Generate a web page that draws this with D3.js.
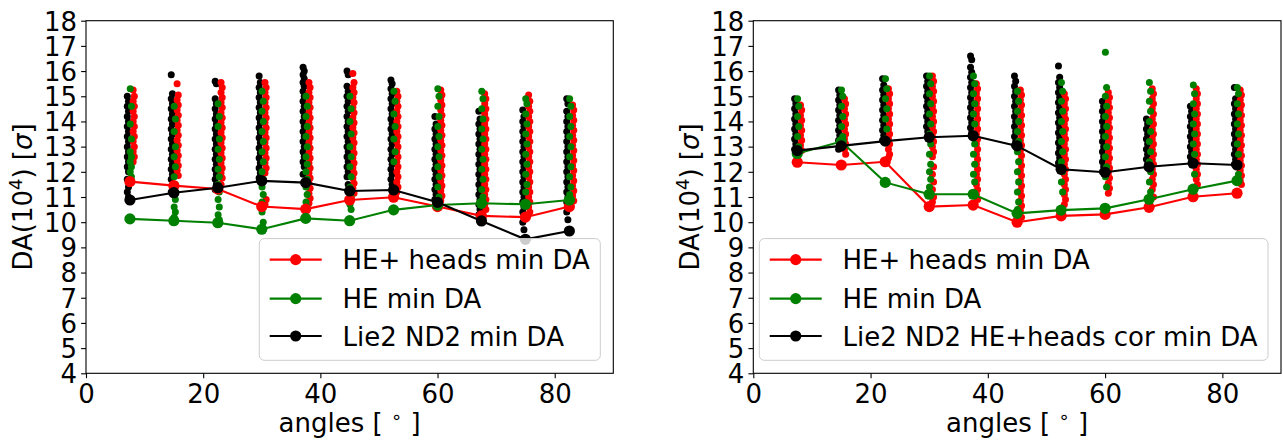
<!DOCTYPE html>
<html><head><meta charset="utf-8">
<script src="https://cdn.jsdelivr.net/npm/d3@7"></script>
<style>body{margin:0;background:#fff} text{font-family:"DejaVu Sans",sans-serif;fill:#000}</style>
</head><body><svg id="c" width="1283" height="441"></svg>
<script>
// ---------------- DATA ----------------
const angles = [7.5, 15, 22.5, 30, 37.5, 45, 52.5, 60, 67.5, 75, 82.5];
const xTicks = [0, 20, 40, 60, 80];
const yTicks = [4, 5, 6, 7, 8, 9, 10, 11, 12, 13, 14, 15, 16, 17, 18];

const leftLegend = ["HE+ heads min DA", "HE min DA", "Lie2 ND2 min DA"];
const rightLegend = ["HE+ heads min DA", "HE min DA", "Lie2 ND2 HE+heads cor min DA"];

// minimum DA per angle (lines)
const leftRedMin   = [11.61, 11.45, 11.32, 10.62, 10.52, 10.88, 10.99, 10.62, 10.25, 10.20, 10.62];
const leftGreenMin = [10.13, 10.06, 9.98, 9.72, 10.15, 10.06, 10.49, 10.68, 10.75, 10.71, 10.88];
const leftBlackMin = [10.88, 11.17, 11.37, 11.64, 11.57, 11.24, 11.28, 10.79, 10.05, 9.32, 9.65];
const rightRedMin   = [12.38, 12.27, 12.40, 10.62, 10.68, 10.00, 10.25, 10.31, 10.59, 11.01, 11.15];
const rightGreenMin = [12.73, 13.20, 11.58, 11.11, 11.11, 10.35, 10.48, 10.55, 10.91, 11.31, 11.65];
const rightBlackMin = [12.84, 13.03, 13.22, 13.37, 13.43, 13.03, 12.10, 11.98, 12.20, 12.34, 12.27];

// individual DA values per angle (scatter clouds)
const leftBlackCloud = [
 [15.0,14.8,14.6,14.4,14.2,14.0,13.8,13.6,13.4,13.2,13.0,12.8,12.6,12.4,12.2,12.0,11.7,11.4,11.2,11.0],
 [15.85,15.1,14.9,14.7,14.5,14.3,14.1,13.9,13.7,13.5,13.3,13.1,12.9,12.7,12.5,12.3,12.1,11.9,11.7,11.4,11.2],
 [15.6,15.5,14.9,14.7,14.5,14.3,14.1,13.9,13.7,13.5,13.3,13.1,12.9,12.7,12.5,12.3,12.1,11.9,11.7,11.5,11.3],
 [15.8,15.55,15.35,15.15,14.95,14.75,14.55,14.35,14.15,13.95,13.75,13.55,13.35,13.15,12.95,12.75,12.55,12.35,12.15,11.95,11.75],
 [16.15,16.0,15.85,15.7,15.55,15.4,15.2,15.0,14.8,14.6,14.4,14.2,14.0,13.8,13.6,13.4,13.2,13.0,12.8,12.6,12.4,12.2,11.9],
 [16.0,15.85,15.4,15.2,15.0,14.8,14.6,14.4,14.2,14.0,13.8,13.6,13.4,13.2,13.0,12.8,12.6,12.4,12.2,12.0,11.8,11.5],
 [15.65,15.5,15.3,15.1,14.9,14.7,14.5,14.3,14.1,13.9,13.7,13.5,13.3,13.1,12.9,12.7,12.5,12.3,12.1,11.9,11.7,11.5],
 [14.2,13.9,13.7,13.5,13.3,13.1,12.9,12.7,12.5,12.3,12.1,11.9,11.7,11.5,11.3,11.1,10.9],
 [14.4,14.1,13.9,13.7,13.5,13.3,13.1,12.9,12.7,12.5,12.3,12.1,11.9,11.7,11.5,11.3,11.1,10.9,10.7,10.5,10.3,10.1],
 [14.45,14.2,14.0,13.8,13.6,13.4,13.2,13.0,12.8,12.6,12.4,12.2,12.0,11.8,11.6,11.4,11.2,11.0,10.8,10.6,10.4,10.2,10.0,9.7],
 [14.9,14.7,14.4,14.2,14.0,13.8,13.6,13.4,13.2,13.0,12.8,12.6,12.4,12.2,12.0,11.8,11.6,11.4,11.2,11.0,10.8,10.6,10.4,10.1]
];
const leftGreenCloud = [
 [15.3,14.6,13.9,13.3,12.8,12.6,12.4,12.2,12.0,11.8,11.6],
 [14.6,14.1,13.6,13.0,12.6,12.2,11.8,11.5,11.2,10.9,10.6,10.4,10.2],
 [14.7,14.2,13.8,13.3,12.9,12.5,12.1,11.8,11.5,11.2,10.9,10.6,10.3,10.1],
 [15.2,14.8,14.4,14.0,13.6,13.2,12.8,12.4,12.0,11.7,11.4,11.1,10.8,10.6,10.4,10.0],
 [15.0,14.6,14.2,13.8,13.4,13.0,12.6,12.3,12.0,11.7,11.4,11.1,10.8,10.6],
 [15.0,14.5,14.0,13.5,13.0,12.6,12.2,11.8,11.4,11.0,10.7,10.5],
 [15.2,14.8,14.3,13.8,13.3,12.8,12.4],
 [15.3,15.0,14.6,14.2,13.8,13.4,13.0,12.6,12.2,11.8,11.4,11.0],
 [15.2,14.9,14.5,14.1,13.7,13.3,12.9,12.5,12.1,11.7,11.3,11.0],
 [14.9,14.7,14.3,13.9,13.5,13.1,12.7,12.3,11.9,11.5,11.2],
 [14.9,14.6,14.2,13.8,13.4,13.0,12.6,12.2,11.8,11.4,11.1]
];
const leftRedCloud = [
 [15.25,15.0,14.8,14.6,14.4,14.2,14.0,13.8,13.6,13.4,13.2,13.0,12.8,12.6,12.4],
 [15.5,15.05,14.85,14.65,14.45,14.25,14.05,13.85,13.65,13.45,13.25,13.05,12.85,12.65,12.45,12.25,12.05,11.85],
 [15.55,15.35,15.15,14.95,14.75,14.55,14.35,14.15,13.95,13.75,13.55,13.35,13.15,12.95,12.75,12.55,12.35,12.15,11.95,11.75,11.5],
 [15.55,15.35,15.15,14.95,14.75,14.55,14.35,14.15,13.95,13.75,13.55,13.35,13.15,12.95,12.75,12.55,12.35,12.15,11.95,10.9,10.7],
 [15.55,15.35,15.15,14.95,14.75,14.55,14.35,14.15,13.95,13.75,13.55,13.35,13.15,12.95,12.75,12.55,12.35,12.15,11.95,11.75,11.55,11.35,11.15,10.95,10.75],
 [15.9,15.55,15.35,15.15,14.95,14.75,14.55,14.35,14.15,13.95,13.75,13.55,13.35,13.15,12.95,12.75,12.55,12.35,12.15,11.95,11.75,11.55,11.35,11.15],
 [15.2,15.0,14.8,14.6,14.4,14.2,14.0,13.8,13.6,13.4,13.2,13.0,12.8,12.6,12.4,12.2,12.0,11.8,11.6,11.4,11.2],
 [15.25,15.05,14.85,14.65,14.45,14.25,14.05,13.85,13.65,13.45,13.25,13.05,12.85,12.65,12.45,12.25,12.05,11.85,11.65,11.45,11.25,11.05,10.85],
 [15.1,14.9,14.7,14.5,14.3,14.1,13.9,13.7,13.5,13.3,13.1,12.9,12.7,12.5,12.3,12.1,11.9,11.7,11.5,11.3,11.1,10.9,10.7,10.5],
 [15.05,14.8,14.6,14.4,14.2,14.0,13.8,13.6,13.4,13.2,13.0,12.8,12.6,12.4,12.2,12.0,11.8,11.6,11.4,11.2,11.0,10.8,10.6,10.4],
 [14.65,14.45,14.25,14.05,13.85,13.65,13.45,13.25,13.05,12.85,12.65,12.45,12.25,12.05,11.85,11.65,11.45,11.25,11.05,10.85]
];
const rightBlackCloud = [
 [14.9,14.7,14.5,14.3,14.1,13.9,13.7,13.5,13.3,13.1,12.9,12.75],
 [15.25,15.05,14.85,14.65,14.45,14.25,14.05,13.85,13.65,13.45,13.25,13.05,12.9],
 [15.7,15.45,15.25,15.05,14.85,14.65,14.45,14.25,14.05,13.85,13.65,13.45,13.25],
 [15.8,15.6,15.4,15.2,15.0,14.8,14.6,14.4,14.2,14.0,13.8,13.6],
 [16.6,16.45,16.15,15.95,15.75,15.55,15.35,15.15,14.95,14.75,14.55,14.35,14.15,13.95,13.75,13.55],
 [15.8,15.6,15.4,15.2,15.0,14.8,14.6,14.4,14.2,14.0,13.8,13.6,13.4,13.2,13.05],
 [16.2,15.75,15.55,15.35,15.15,14.95,14.75,14.55,14.35,14.15,13.95,13.75,13.55,13.35,13.15,12.95,12.75,12.55,12.35,12.15],
 [14.8,14.6,14.4,14.2,14.0,13.8,13.6,13.4,13.2,13.0,12.8,12.6,12.4,12.2,12.0],
 [14.1,13.9,13.7,13.5,13.3,13.1,12.9,12.7,12.5,12.3],
 [14.6,14.4,14.2,14.0,13.8,13.6,13.4,13.2,13.0,12.8,12.6,12.4],
 [15.35,14.9,14.7,14.5,14.3,14.1,13.9,13.7,13.5,13.3,13.1,12.9,12.7,12.5,12.3]
];
const rightGreenCloud = [
 [14.9,14.6,14.2,13.8,13.4,13.0,12.75],
 [15.25,15.0,14.6,14.2,13.8,13.4,13.15],
 [15.7,15.3,14.9,14.5,14.1,13.7,13.3],
 [15.8,15.5,15.1,14.7,14.3,13.9,13.5,13.1,12.7,12.3,12.0,11.7,11.4,11.1],
 [15.8,15.5,15.1,14.7,14.3,13.9,13.5,13.1,12.7,12.3,11.9,11.6],
 [15.2,14.8,14.4,14.0,13.6,13.2,12.8,12.4,12.0,11.6,11.2,10.8,10.5],
 [15.55,15.2,14.8,14.4,14.0,13.6,13.2,12.8,12.4,12.0,11.6,11.2],
 [16.75,15.35,15.0,14.6,14.2,13.8,13.4,13.0,12.6,12.2,11.8,11.4],
 [15.55,15.2,14.8,14.4,14.0,13.6,13.2,12.8,12.4,12.0,11.6,11.2],
 [15.45,15.1,14.7,14.3,13.9,13.5,13.1,12.7,12.3,11.9],
 [15.35,15.1,14.7,14.3,13.9,13.5,13.1,12.7,12.3,11.9]
];
const rightRedCloud = [
 [14.65,14.45,14.25,14.05,13.85,13.65,13.45,13.25,13.05,12.85],
 [14.9,14.7,14.5,14.3,14.1,13.9,13.7,13.5,13.3,13.1,12.9,12.7],
 [15.3,15.1,14.9,14.7,14.5,14.3,14.1,13.9,13.7,13.5,13.3,13.1,12.9,12.7,12.55],
 [15.8,15.6,15.4,15.2,15.0,14.8,14.6,14.4,14.2,14.0,13.8,13.6,13.4,13.2,13.0,12.8,12.6,12.2,11.9,11.6,11.3,11.0,10.8],
 [15.5,15.3,15.1,14.9,14.7,14.5,14.3,14.1,13.9,13.7,13.5,13.3,13.1,12.9,12.7,12.5,12.3,12.1,11.9,11.7,11.5,11.3,11.1,10.9],
 [15.25,15.05,14.85,14.65,14.45,14.25,14.05,13.85,13.65,13.45,13.25,13.05,12.85,12.65,12.45,12.25,12.05,11.85,11.65,11.45,11.25,11.05,10.85,10.65,10.45,10.2],
 [15.1,14.9,14.7,14.5,14.3,14.1,13.9,13.7,13.5,13.3,13.1,12.9,12.7,12.5,12.3,12.1,11.9,11.7,11.5,11.3,11.1,10.9,10.7],
 [15.15,14.95,14.75,14.55,14.35,14.15,13.95,13.75,13.55,13.35,13.15,12.95,12.75,12.55,12.35,12.15,11.95,11.75,11.55,11.35,11.15],
 [15.3,15.1,14.9,14.7,14.5,14.3,14.1,13.9,13.7,13.5,13.3,13.1,12.9,12.7,12.5,12.3,12.1,11.9,11.7,11.5,11.3,11.0],
 [15.3,15.1,14.9,14.7,14.5,14.3,14.1,13.9,13.7,13.5,13.3,13.1,12.9,12.7,12.5,12.3,12.1,11.9,11.7,11.5],
 [15.25,15.05,14.85,14.65,14.45,14.25,14.05,13.85,13.65,13.45,13.25,13.05,12.85,12.65,12.45,12.25,12.05,11.85,11.65,11.5]
];

// ---------------- DRAWING ----------------
const FS = 26;
const svg = d3.select("#c");
const panels = [
  {x0: 86, x1: 613.3, legend: leftLegend,
   clouds: [leftBlackCloud, leftRedCloud, leftGreenCloud],
   mins: [leftRedMin, leftGreenMin, leftBlackMin]},
  {x0: 753.3, x1: 1281, legend: rightLegend,
   clouds: [rightBlackCloud, rightRedCloud, rightGreenCloud],
   mins: [rightRedMin, rightGreenMin, rightBlackMin]}
];
const Y0 = 20.7, Y1 = 373.3;
const cloudStyle = [{c: "#000000", off: -0.35}, {c: "#ff0000", off: 0.65}, {c: "#008000", off: 0.15}];
const lineColors = ["#ff0000", "#008000", "#000000"];

panels.forEach(p => {
  const x = d3.scaleLinear().domain([0, 90]).range([p.x0, p.x1]);
  const y = d3.scaleLinear().domain([4, 18]).range([Y1, Y0]);
  const g = svg.append("g");

  // clouds
  p.clouds.forEach((cloud, si) => {
    const st = cloudStyle[si];
    cloud.forEach((vals, ai) => {
      vals.forEach((v, j) => {
        g.append("circle")
          .attr("cx", x(angles[ai] + st.off + (j % 2 ? 0.1 : -0.1)))
          .attr("cy", y(v)).attr("r", 3.5).attr("fill", st.c);
      });
    });
  });

  // min lines
  p.mins.forEach((m, si) => {
    const line = d3.line().x((d, i) => x(angles[i])).y(d => y(d));
    g.append("path").datum(m).attr("d", line)
      .attr("fill", "none").attr("stroke", lineColors[si]).attr("stroke-width", 2.1);
    m.forEach((v, i) => {
      g.append("circle").attr("cx", x(angles[i])).attr("cy", y(v))
        .attr("r", 5.6).attr("fill", lineColors[si]);
    });
  });

  // axes
  const ax = g.append("g").attr("transform", `translate(0,${Y1})`)
    .call(d3.axisBottom(x).tickValues(xTicks).tickSize(4.9).tickPadding(4));
  const ay = g.append("g").attr("transform", `translate(${p.x0},0)`)
    .call(d3.axisLeft(y).tickValues(yTicks).tickSize(4.9).tickPadding(4));
  [ax, ay].forEach(a => {
    a.select(".domain").remove();
    a.selectAll(".tick line").attr("stroke", "#000").attr("stroke-width", 1.1);
    a.selectAll(".tick text").attr("font-family", "DejaVu Sans").attr("font-size", FS).attr("fill", "#000");
  });
  ax.selectAll(".tick text").attr("dy", null).attr("y", 30);
  ay.selectAll(".tick text").attr("dy", null).attr("y", 9.3);

  // frame
  g.append("rect").attr("x", p.x0).attr("y", Y0).attr("width", p.x1 - p.x0).attr("height", Y1 - Y0)
    .attr("fill", "none").attr("stroke", "#000").attr("stroke-width", 1.1);

  // axis labels
  const xl = g.append("text").attr("x", (p.x0 + p.x1) / 2).attr("y", 432)
    .attr("text-anchor", "middle").attr("font-size", FS);
  xl.append("tspan").text("angles [ ");
  xl.append("tspan").attr("dy", -9).attr("font-size", 18).text("∘");
  xl.append("tspan").attr("dy", 9).text(" ]");

  const yl = g.append("text").attr("transform", `translate(${p.x0 - 54},${(Y0 + Y1) / 2}) rotate(-90)`)
    .attr("text-anchor", "middle").attr("font-size", FS);
  yl.append("tspan").text("DA(10");
  yl.append("tspan").attr("dy", -10).attr("font-size", 18).text("4");
  yl.append("tspan").attr("dy", 10).text(") [");
  yl.append("tspan").attr("font-style", "italic").text("σ");
  yl.append("tspan").text("]");

  // legend
  const lg = g.append("g");
  const box = lg.append("rect");
  const texts = p.legend.map((t, i) => lg.append("text").attr("font-size", FS).text(t));
  const tw = d3.max(texts, t => t.node().getComputedTextLength());
  const bw = 0.8 * FS + 2 * FS + 0.8 * FS + tw, bh = 121.7;
  const bx = p.x1 - 13 - bw, by = Y1 - 13 - bh;
  box.attr("x", bx).attr("y", by).attr("width", bw).attr("height", bh).attr("rx", 5)
    .attr("fill", "#fff").attr("fill-opacity", 0.8).attr("stroke", "#cccccc").attr("stroke-width", 1);
  const rows = [21, 60, 97.4];
  texts.forEach((t, i) => {
    const ry = by + rows[i];
    t.attr("x", bx + 0.4 * FS + 2 * FS + 0.8 * FS).attr("y", ry + 9.5);
    lg.append("line").attr("x1", bx + 0.4 * FS).attr("x2", bx + 0.4 * FS + 2 * FS)
      .attr("y1", ry).attr("y2", ry).attr("stroke", lineColors[i]).attr("stroke-width", 2.1);
    lg.append("circle").attr("cx", bx + 0.4 * FS + FS).attr("cy", ry).attr("r", 5.6).attr("fill", lineColors[i]);
  });
});
</script></body></html>
